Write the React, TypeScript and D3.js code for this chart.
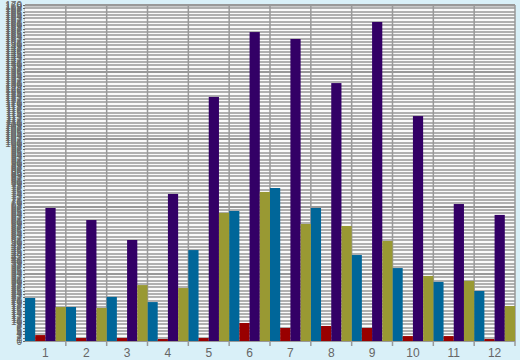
import React from 'react';
import * as d3 from 'd3';

// months 1..12, four series per month
const categories = ['1', '2', '3', '4', '5', '6', '7', '8', '9', '10', '11', '12'];
const seriesBlue = [21.8, 17.2, 22.3, 19.7, 46.0, 65.8, 77.4, 67.3, 43.5, 36.9, 29.9, 25.3];
const seriesRed = [3.0, 1.5, 1.5, 1.0, 1.5, 9.1, 6.6, 7.6, 6.6, 2.5, 2.5, 1.0];
const seriesPurple = [67.3, 61.2, 51.1, 74.4, 123.5, 156.3, 152.8, 130.5, 161.4, 113.8, 69.3, 63.8];
const seriesOlive = [17.2, 16.7, 28.3, 26.8, 64.8, 75.4, 59.2, 58.2, 50.6, 32.9, 30.4, 17.7];
const seriesColors = ['#006699', '#990000', '#330066', '#999933'];
const yMax = 170;

const W = 520;
const H = 360;
const margin = { top: 5, right: 5, bottom: 19, left: 25 };

const App: React.FC = () => {
  const series = [seriesBlue, seriesRed, seriesPurple, seriesOlive];
  const x = d3
    .scaleBand<string>()
    .domain(categories)
    .range([margin.left, W - margin.right])
    .padding(0);
  const inner = d3
    .scaleBand<number>()
    .domain(d3.range(series.length))
    .range([0, x.bandwidth()])
    .padding(0);
  const y = d3
    .scaleLinear()
    .domain([0, yMax])
    .range([H - margin.bottom, margin.top]);

  const minor = d3.range(0, 101).map((i) => (i * yMax) / 100);
  const labels = d3.range(0, yMax + 1, 1);
  const x0 = margin.left;
  const x1 = W - margin.right;
  const bottom = H - margin.bottom;

  return (
    <svg
      width={W}
      height={H}
      style={{ position: 'absolute', left: 0, top: 0, background: '#d9f0f8' }}>
      <rect x={x0} y={margin.top} width={x1 - x0} height={bottom - margin.top} fill="#fafafa" />
      {/* horizontal grid */}
      {minor.map((v, i) => (
        <line
          key={'h' + i}
          x1={x0}
          x2={x1}
          y1={Math.round(y(v))}
          y2={Math.round(y(v))}
          stroke={i % 20 === 0 ? '#999' : '#b0b0b0'}
          strokeWidth={2}
        />
      ))}
      {/* vertical grid */}
      {categories.map((c, i) =>
        i === 0 ? null : (
          <line
            key={'v' + c}
            x1={x(c)}
            x2={x(c)}
            y1={margin.top}
            y2={bottom + 5}
            stroke="#999"
            strokeWidth={1.5}
          />
        ),
      )}
      <line x1={x1} x2={x1} y1={margin.top} y2={bottom + 5} stroke="#999" strokeWidth={1.5} />
      <line x1={x0} x2={x1} y1={margin.top + 0.5} y2={margin.top + 0.5} stroke="#999" strokeWidth={2} />
      {/* bars */}
      {series.map((vals, s) =>
        vals.map((v, i) => (
          <rect
            key={s + '-' + i}
            x={(x(categories[i]) ?? 0) + (inner(s) ?? 0)}
            y={y(v)}
            width={inner.bandwidth()}
            height={bottom - y(v)}
            fill={seriesColors[s]}
          />
        )),
      )}
      {/* y axis */}
      <line x1={x0 - 0.5} x2={x0 - 0.5} y1={margin.top} y2={bottom} stroke="#ccc" />
      {minor.map((v, i) => (
        <line
          key={'t' + i}
          x1={x0 - 2}
          x2={x0}
          y1={Math.round(y(v)) + 0.5}
          y2={Math.round(y(v)) + 0.5}
          stroke="#666"
        />
      ))}
      <g fontFamily="'Liberation Sans', Arial, sans-serif" fontSize={10} fill="#666" textAnchor="end">
        {labels.map((v) => (
          <text key={'l' + v} x={x0 - 3} y={y(v)} dy="0.35em">
            {v}
          </text>
        ))}
      </g>
      {/* x axis labels */}
      <g fontFamily="'Liberation Sans', Arial, sans-serif" fontSize={12} fill="#666" textAnchor="middle">
        {categories.map((c) => (
          <text key={'x' + c} x={(x(c) ?? 0) + x.bandwidth() / 2} y={bottom + 16}>
            {c}
          </text>
        ))}
      </g>
    </svg>
  );
};

export default App;
